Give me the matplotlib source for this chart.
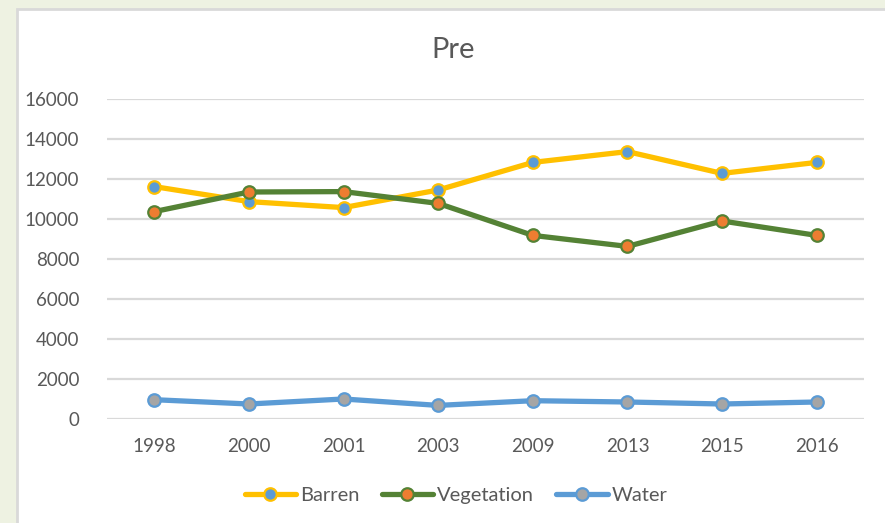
import matplotlib
matplotlib.use("Agg")
import matplotlib.pyplot as plt
from matplotlib.patches import Rectangle
import numpy as np

years = ["1998", "2000", "2001", "2003", "2009", "2013", "2015", "2016"]
barren = [11620, 10870, 10570, 11450, 12830, 13370, 12280, 12830]
vegetation = [10370, 11350, 11370, 10780, 9180, 8630, 9900, 9180]
water = [965, 750, 1000, 680, 915, 850, 750, 850]
yticks = [0, 2000, 4000, 6000, 8000, 10000, 12000, 14000, 16000]

plt.rcParams['font.family'] = ['Lato', 'DejaVu Sans']
W, H = 885, 523
fig = plt.figure(figsize=(W / 100, H / 100), dpi=100)
fig.patch.set_facecolor('#eef2e2')

# chart area (white with light gray border)
fig.patches.append(Rectangle((17 / W, -0.05), 1.2, (H - 9) / H + 0.05,
                             transform=fig.transFigure, facecolor='white',
                             edgecolor='#d9d9d9', linewidth=2, zorder=-10))

ax = fig.add_axes([107 / W, (H - 419) / H, (864 - 107) / W, (419 - 99) / H])
ax.set_facecolor('none')
x = np.arange(len(years))
series = [
    ("Barren", barren, '#FFC000', '#5B9BD5'),
    ("Vegetation", vegetation, '#548235', '#ED7D31'),
    ("Water", water, '#5B9BD5', '#A5A5A5'),
]
for name, vals, lc, mc in series:
    ax.plot(x, vals, color=lc, linewidth=3.8, marker='o', markersize=9,
            markerfacecolor=mc, markeredgecolor=lc, markeredgewidth=1.6,
            label=name, solid_capstyle='round', zorder=3)

ax.set_xlim(-0.5, len(years) - 0.5)
ax.set_ylim(0, 16000)
ax.set_yticks(yticks)
ax.set_yticklabels([str(v) for v in yticks])
ax.set_xticks(x)
ax.set_xticklabels(years)
ax.grid(axis='y', color='#d9d9d9', linewidth=1.6, zorder=0)
ax.set_axisbelow(True)
for s in ax.spines.values():
    s.set_visible(False)
ax.tick_params(axis='both', length=0, labelsize=13.5, colors='#595959')
ax.tick_params(axis='y', pad=20)
ax.tick_params(axis='x', pad=14)

fig.text(453 / W, 1 - 50 / H, "Pre", ha='center', va='center', fontsize=21,
         color='#595959')

leg = fig.legend(loc='center', bbox_to_anchor=(456 / W, 1 - 495 / H), ncol=3,
                 frameon=False, fontsize=14.5, handlelength=2.55,
                 handletextpad=0.2, columnspacing=1.1)
for t in leg.get_texts():
    t.set_color('#595959')

fig.savefig("out.png", dpi=100, facecolor=fig.get_facecolor())
